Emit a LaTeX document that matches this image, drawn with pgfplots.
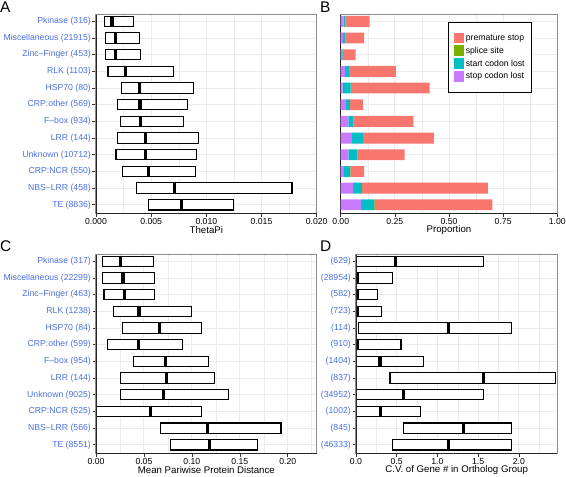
\documentclass[border=0pt]{standalone}
\usepackage{pgfplots}
\pgfplotsset{compat=1.18}
\usepackage{pgfplotstable}
\usepgfplotslibrary{statistics}
\usepackage{fontspec}
\setmainfont{Liberation Sans}
\definecolor{labblue}{HTML}{4A6FE3}
\definecolor{cprem}{HTML}{F8766D}
\definecolor{csplice}{HTML}{7CAE00}
\definecolor{cstart}{HTML}{00BFC4}
\definecolor{cstop}{HTML}{C77CFF}
\definecolor{gridc}{HTML}{EBEBEB}
\definecolor{framec}{HTML}{8C8C8C}

% ThetaPi: lower quartile, median, upper quartile (row 0 = TE, bottom)
\pgfplotstableread{
pos lq med uq
1 0.00475 0.00774 0.01246
2 0.00363 0.00714 0.01776
3 0.00242 0.00475 0.00898
4 0.00181 0.00451 0.00913
5 0.00191 0.00445 0.00928
6 0.00221 0.00405 0.00789
7 0.00197 0.00399 0.00832
8 0.00233 0.00393 0.00883
9 0.00109 0.00266 0.00705
10 0.00088 0.00178 0.00402
11 0.00088 0.00178 0.00393
12 0.00073 0.00145 0.00339
}\tabA

% Proportions (segments)
\pgfplotstableread{
pos stop start splice prem
1 0.094 0.060 0.003 0.543
2 0.057 0.041 0.001 0.581
3 0.015 0.029 0.001 0.063
4 0.035 0.041 0.001 0.218
5 0.052 0.054 0.001 0.323
6 0.035 0.023 0.001 0.276
7 0.025 0.017 0.001 0.061
8 0.009 0.037 0.002 0.362
9 0.020 0.018 0.001 0.216
10 0.006 0.003 0.001 0.059
11 0.011 0.009 0.001 0.087
12 0.014 0.008 0.001 0.111
}\tabB

% Mean pairwise protein distance
\pgfplotstableread{
pos lq med uq
1 0.0774 0.118 0.168
2 0.067 0.116 0.193
3 0.0005 0.0566 0.110
4 0.026 0.0708 0.138
5 0.026 0.0733 0.124
6 0.0392 0.0726 0.117
7 0.0122 0.0444 0.0903
8 0.0278 0.0663 0.110
9 0.0181 0.0448 0.0997
10 0.0083 0.0299 0.0611
11 0.0066 0.0281 0.0611
12 0.0066 0.0257 0.0597
}\tabC

% C.V. of gene number in ortholog group
\pgfplotstableread{
pos lq med uq
1 0.451 1.135 1.906
2 0.582 1.324 1.906
3 0.008 0.303 0.795
4 0.008 0.582 1.566
5 0.418 1.570 2.447
6 0.008 0.295 0.832
7 0.004 0.012 0.553
8 0.033 1.135 1.906
9 0.004 0.012 0.311
10 0.004 0.012 0.266
11 0.004 0.012 0.450
12 0.008 0.488 1.566
}\tabD

\pgfplotsset{
  panel/.style={
    scale only axis, height=198.6bp,
    ymin=0.49, ymax=12.4,
    ytick={1,...,12},
    xmin=0,
    clip mode=individual,
    tick align=outside, xtick pos=left, ytick pos=left,
    major tick length=3.5bp, minor tick length=0pt,
    tick style={black!80, line width=0.6bp},
    xmajorgrids, xminorgrids, ymajorgrids,
    major grid style={gridc, line width=0.9bp},
    minor grid style={gridc, line width=0.5bp},
    axis line style={framec, line width=1.1bp},
    scaled x ticks=false,
    /pgf/number format/assume math mode=true,
    ticklabel style={font=\fontsize{8.7}{10}\selectfont},
    yticklabel style={text=labblue, inner sep=1.5bp},
    xticklabel style={inner sep=1.5bp},
    label style={font=\fontsize{9.7}{11}\selectfont},
    xlabel style={at={(axis description cs:0.5,0)}, anchor=center, yshift=-17bp},
    boxplot/draw direction=x,
  },
  bx/.style={black, fill=white, line width=1.1bp,
    boxplot prepared={box extend=0.62, whisker extend=0,
      every median/.style={line width=3.2bp}}},
}

\newcommand{\blackaxes}{\draw[black!85, line width=0.9bp] (rel axis cs:0,1) -- (rel axis cs:0,0) -- (rel axis cs:1,0);}

% one box per table row: lower quartile, median, upper quartile
\newcommand{\boxrows}[1]{%
  \pgfplotsinvokeforeach{0,...,11}{%
    \pgfplotstablegetelem{##1}{lq}\of#1\let\vlq\pgfplotsretval
    \pgfplotstablegetelem{##1}{med}\of#1\let\vmed\pgfplotsretval
    \pgfplotstablegetelem{##1}{uq}\of#1\let\vuq\pgfplotsretval
    \edef\doplot{\noexpand\addplot[bx, boxplot prepared={draw position=##1+1, lower whisker=\vlq, lower quartile=\vlq, median=\vmed, upper quartile=\vuq, upper whisker=\vuq}] coordinates {};}%
    \doplot
  }%
}

\begin{document}
\begin{tikzpicture}
\useasboundingbox (0,0) rectangle (566bp,477bp);

% ---------------- Panel A ----------------
\begin{axis}[panel,
  at={(96bp,263.7bp)}, anchor=south west, width=220.7bp,
  xmax=0.02, xtick={0,0.005,0.01,0.015,0.02},
  minor xtick={0.0025,0.0075,0.0125,0.0175},
  xticklabel style={/pgf/number format/fixed, /pgf/number format/precision=3, /pgf/number format/fixed zerofill},
  yticklabels={TE (8836), NBS–LRR (458), CRP:NCR (550), Unknown (10712), LRR (144), F–box (934), CRP:other (569), HSP70 (80), RLK (1103), Zinc–Finger (453), Miscellaneous (21915), Pkinase (316)},
  xlabel={ThetaPi}]
\boxrows{\tabA}
\blackaxes
\end{axis}

% ---------------- Panel B ----------------
\begin{axis}[panel,
  at={(340.7bp,263.7bp)}, anchor=south west, width=216.6bp,
  xmax=1, xtick={0,0.25,0.5,0.75,1},
  minor xtick={0.125,0.375,0.625,0.875},
  xticklabel style={/pgf/number format/fixed, /pgf/number format/precision=2, /pgf/number format/fixed zerofill},
  yticklabels={}, ytick style={draw=none},
  xbar stacked, bar width=0.65,
  xlabel={Proportion},
  reverse legend,
  legend image code/.code={\fill[#1] (0bp,-5bp) rectangle (10bp,5.5bp);},
  legend style={at={(0.497,0.963)}, anchor=north west, draw=black, line width=0.9bp,
    font=\fontsize{8.7}{9.5}\selectfont, inner xsep=5bp, inner ysep=10bp, row sep=1.2bp},
  legend cell align=left]
\addplot[fill=cstop, draw=none] table[x=stop, y=pos] {\tabB};
\addplot[fill=cstart, draw=none] table[x=start, y=pos] {\tabB};
\addplot[fill=csplice, draw=none] table[x=splice, y=pos] {\tabB};
\addplot[fill=cprem, draw=none] table[x=prem, y=pos] {\tabB};
\legend{stop codon lost, start codon lost, splice site, premature stop}
\blackaxes
\end{axis}

% ---------------- Panel C ----------------
\begin{axis}[panel,
  at={(96bp,23.7bp)}, anchor=south west, width=220.7bp,
  xmax=0.2302, xtick={0,0.05,0.1,0.15,0.2},
  minor xtick={0.025,0.075,0.125,0.175,0.225},
  xticklabel style={/pgf/number format/fixed, /pgf/number format/precision=2, /pgf/number format/fixed zerofill},
  yticklabels={TE (8551), NBS–LRR (566), CRP:NCR (525), Unknown (9025), LRR (144), F–box (954), CRP:other (599), HSP70 (84), RLK (1238), Zinc–Finger (463), Miscellaneous (22299), Pkinase (317)},
  xlabel={Mean Pariwise Protein Distance}]
\boxrows{\tabC}
\blackaxes
\end{axis}

% ---------------- Panel D ----------------
\begin{axis}[panel,
  at={(356bp,23.7bp)}, anchor=south west, width=201.3bp,
  xmax=2.473, xtick={0,0.5,1,1.5,2},
  minor xtick={0.25,0.75,1.25,1.75,2.25},
  xticklabel style={/pgf/number format/fixed, /pgf/number format/precision=1, /pgf/number format/fixed zerofill},
  yticklabels={(46333), (845), (1002), (34952), (837), (1404), (910), (114), (723), (582), (28954), (629)},
  xlabel={C.V. of Gene \# in Ortholog Group}]
\boxrows{\tabD}
\blackaxes
\end{axis}

% panel letters
\node[anchor=north west, inner sep=0pt, font=\fontsize{15.5}{16}\selectfont] at (0bp,475bp) {A};
\node[anchor=north west, inner sep=0pt, font=\fontsize{15.5}{16}\selectfont] at (320bp,475bp) {B};
\node[anchor=north west, inner sep=0pt, font=\fontsize{15.5}{16}\selectfont] at (0bp,236.5bp) {C};
\node[anchor=north west, inner sep=0pt, font=\fontsize{15.5}{16}\selectfont] at (320bp,236.5bp) {D};
\end{tikzpicture}
\end{document}
